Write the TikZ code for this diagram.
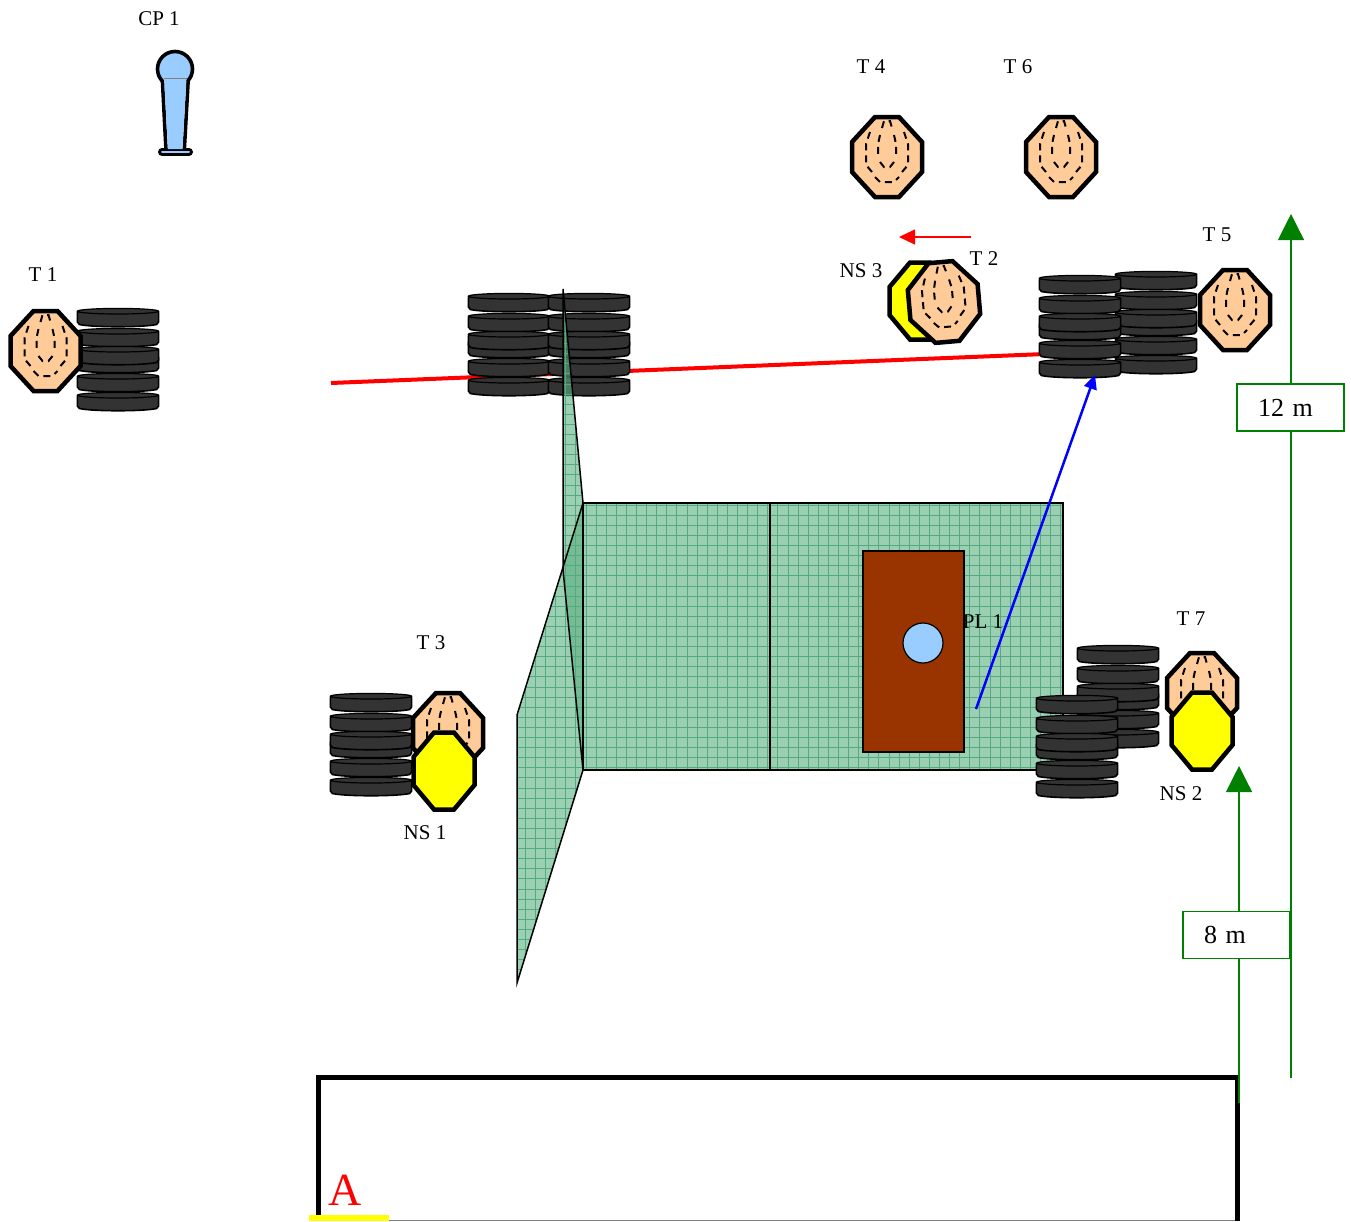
\documentclass[tikz,border=0pt]{standalone}
\usepackage{fontspec}
\setmainfont{Liberation Serif}
\usetikzlibrary{arrows.meta}
\definecolor{skin}{HTML}{FFCC99}
\definecolor{sky}{HTML}{99CCFF}
\definecolor{tirefill}{HTML}{333333}
\definecolor{wallfill}{HTML}{9BCFB2}
\definecolor{wallside}{HTML}{59B07F}
\definecolor{wallgrid}{HTML}{55A983}
\definecolor{brown}{HTML}{993300}
\definecolor{rulegreen}{HTML}{008000}
\definecolor{signyellow}{RGB}{255,255,0}
\tikzset{
  tag/.style = {inner sep=0pt, font=\fontsize{21}{24}\selectfont},
  sizebox/.style = {draw=rulegreen, line width=1.2pt, fill=white, inner xsep=21pt, inner ysep=0pt, minimum height=47pt, text width=65pt, align=left, font=\fontsize{26}{30}\selectfont},
  pics/tire/.style = {code = {
    \draw[fill=tirefill, line width=1.6pt, rounded corners=2pt] (.4,3) -- (.4,16) .. controls (15,19.5) and (67,19.5) .. (81.6,16) -- (81.6,3) -- cycle;
    \draw[fill=tirefill, line width=1.2pt] (41,3.2) ellipse [x radius=40.6, y radius=2.8];
  }},
  pics/tirestack/.style = {code = {
    \foreach \d in {0,20,46,38,65,84} \pic at (0,\d) {tire};
  }},
  pics/noshoot/.style = {code = {
    \draw[fill=signyellow, line width=4.5pt] (-10,-38.5) -- (10,-38.5) -- (30.5,-14) -- (30.5,14) -- (10,38.5) -- (-10,38.5) -- (-30.5,14) -- (-30.5,-14) -- cycle;
  }},
  pics/target/.style = {code = {
    \draw[fill=skin, line width=4.5pt] (-12,-40) -- (12,-40) -- (35,-15) -- (35,15) -- (12,40) -- (-12,40) -- (-35,15) -- (-35,-15) -- cycle;
    \begin{scope}[line width=2pt, dash pattern=on 7pt off 5pt]
    \draw (-5,-29) -- (-3,-36) -- (3,-36) -- (5,-29);
    \draw (-7,5) -- (-3,10) -- (3,10) -- (7,5);
    \draw (-12,20) -- (-7,25) -- (7,25) -- (12,20);
    \foreach \s in {1,-1} {
      \draw[xscale=\s] (-17,-25) -- (-21,-13) -- (-21,8) -- (-15,15);
      \draw[xscale=\s] (-7,-22) -- (-9,-13) -- (-9,-2);
    }
    \end{scope}
  }}
}
\newcommand{\wallgrid}[5]{% clip path, then grid corners
  \begin{scope}
    \clip #1;
    \draw[wallgrid, line width=.5pt, xstep=10.1pt, ystep=10.1pt] (#2,#3) grid (#4,#5);
  \end{scope}
}
\begin{document}
\begin{tikzpicture}[x=1pt,y=-1pt]
\useasboundingbox (0,0) rectangle (1351,1221);

% red line under the stacks
\coordinate (fault left) at (331,383);
\coordinate (fault right) at (1045,354);
\draw[red, line width=4pt] (fault left) -- (fault right);

% stacks
\pic at (77,308) {tirestack};
\pic at (468,293) {tirestack};
\pic at (548,293) {tirestack};
\pic at (1115,271) {tirestack};
\pic at (1039,275) {tirestack};

% walls
\fill[wallfill] (583,503) rectangle (1063,770);
\wallgrid{(583,503) rectangle (1063,770)}{583}{503}{1063}{770}
\fill[wallside, fill opacity=.6] (563,289) -- (583,503) -- (583,770) -- (563,570) -- cycle;
\wallgrid{(563,289) -- (583,503) -- (583,770) -- (563,570) -- cycle}{553}{283}{593}{780}
\fill[wallside, fill opacity=.6] (583,503) -- (583,770) -- (517,983) -- (517,715) -- cycle;
\wallgrid{(583,503) -- (583,770) -- (517,983) -- (517,715) -- cycle}{513}{503}{593}{990}
\draw[line width=1.5pt] (583,503) rectangle (1063,770);
\draw[line width=1.5pt] (770,503) -- (770,770);
\draw[line width=1.5pt] (583,503) -- (563,289) -- (563,570) -- (583,770);
\draw[line width=1.5pt] (583,503) -- (517,715) -- (517,983) -- (583,770);

% shooting position
\node[draw, line width=1.2pt, fill=brown, minimum width=101pt, minimum height=201pt, inner sep=0pt] (mat) at (913.5,651.5) {};
\node[draw, line width=1.2pt, fill=sky, circle, minimum size=40pt, inner sep=0pt] (plate) at (923,643) {};

% other stacks
\pic at (1077,645) {tirestack};
\pic at (330,693) {tirestack};

% targets
\pic at (45.5,351) {target};
\pic at (887,157) {target};
\pic at (1061,157) {target};
\pic at (1235,310) {target};
\pic at (920,301) {noshoot};
\pic[rotate=5] at (944,302) {target};
\pic at (448,733) {target};
\pic at (444,771) {noshoot};
\pic at (1202,693) {target};
\pic at (1036,695) {tirestack};
\pic at (1202,731) {noshoot};

% microphone
\draw[line width=8pt, line cap=round] (162,152) -- (189,152);
\draw[sky, line width=2pt, line cap=round] (162,152) -- (189,152);
\draw[line width=3.6pt] (162.3,78) -- (166,150);
\draw[line width=3.6pt] (188.3,78) -- (184.3,150);
\node[draw, line width=3.6pt, fill=sky, circle, minimum size=35pt, inner sep=0pt] (mic) at (175,69) {};
\fill[sky] (164,79) -- (168,149) -- (182.5,149) -- (186.5,79) -- cycle;
\draw[gray, line width=.6pt] (164,78) -- (186.5,78);

% stage box
\draw[gray, line width=1pt] (318,1220) -- (1237,1220);
\draw[line width=5pt] (318,1221) -- (318,1077) -- (1237,1077) -- (1237,1221);
\fill[signyellow] (309,1215) rectangle (389,1221);
\node[inner sep=0pt, text=red, font=\fontsize{46}{50}\selectfont] (area) at (345,1190) {A};

% arrows
\coordinate (run start) at (976,709);
\coordinate (run end) at (1095,375);
\draw[blue, line width=2.5pt, -{Triangle[width=13pt,length=14pt]}] (run start) -- (run end);
\coordinate (swing start) at (971,237);
\coordinate (swing end) at (899,237);
\draw[red, line width=1.2pt, -{Triangle[width=15pt,length=16pt]}] (swing start) -- (swing end);
\coordinate (far base) at (1291,1078);
\coordinate (far tip) at (1291,214);
\coordinate (near base) at (1239,1103);
\coordinate (near tip) at (1239,766);
\draw[rulegreen, line width=1.2pt, -{Triangle[width=26pt,length=26pt]}] (far base) -- (far tip);
\draw[rulegreen, line width=1.2pt, -{Triangle[width=26pt,length=26pt]}] (near base) -- (near tip);
\node[sizebox] (far size) at (1290.5,407.5) {\raisebox{-2pt}{12 m}};
\node[sizebox] (near size) at (1236.5,935) {\raisebox{-2pt}{8 m}};

% labels
\node[tag] (cp1) at (159,19) {CP 1};
\node[tag] (t1) at (43,275) {T 1};
\node[tag] (t2) at (984,259) {T 2};
\node[tag] (t3) at (431,643) {T 3};
\node[tag] (t4) at (871,67) {T 4};
\node[tag] (t5) at (1217,235) {T 5};
\node[tag] (t6) at (1018,67) {T 6};
\node[tag] (t7) at (1191,619) {T 7};
\node[tag] (ns1) at (425,833) {NS 1};
\node[tag] (ns2) at (1181,794) {NS 2};
\node[tag] (ns3) at (861,271) {NS 3};
\node[tag] (pl1) at (983,622) {PL 1};
\end{tikzpicture}
\end{document}
